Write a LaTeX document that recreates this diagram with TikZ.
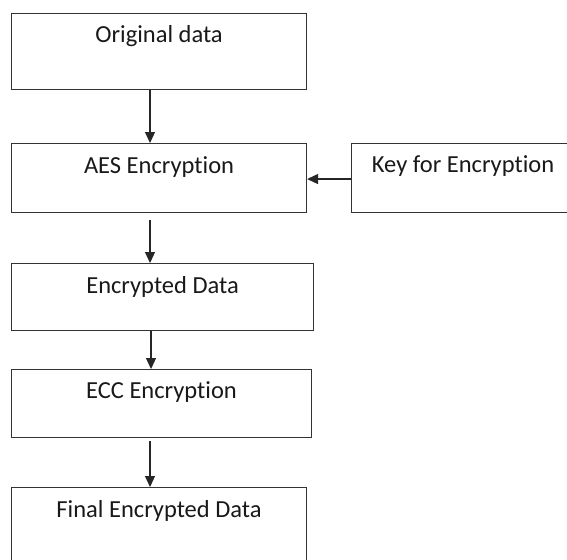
\documentclass[tikz,border=0pt]{standalone}
\usepackage{fontspec}
\setmainfont[Ligatures={NoCommon}]{Carlito}
\usetikzlibrary{arrows.meta,calc}
\begin{document}
\begin{tikzpicture}[x=1pt,y=-1pt,
  box/.style={draw=black!80, line width=1.1pt, anchor=north west, inner sep=0pt, fill=white},
  lbl/.style={anchor=base, inner sep=0pt, font=\fontsize{24.5}{29}\selectfont, text=black!90},
  arr/.style={draw=black!85, line width=1.2pt, -{Triangle[width=10pt,length=11pt]}}]
\useasboundingbox (0,0) rectangle (567,559);
\clip (0,0) rectangle (567,559);
\fill[white] (0,0) rectangle (567,559);
% boxes
\node[box, minimum width=295pt, minimum height=76pt] (orig) at (11,13) {};
\node[box, minimum width=295pt, minimum height=69pt] (aes) at (11,143) {};
\node[box, minimum width=223pt, minimum height=69pt] (key) at (351,143) {};
\node[box, minimum width=302pt, minimum height=67pt] (enc) at (11,263) {};
\node[box, minimum width=300pt, minimum height=68pt] (ecc) at (11,369) {};
\node[box, minimum width=295pt, minimum height=90pt] (fin) at (11,487) {};
% labels
\node[lbl] (torig) at ($(orig.north)+(0,30)$) {Original data};
\node[lbl] (taes) at ($(aes.north)+(0,30)$) {AES Encryption};
\node[lbl] (tkey) at ($(key.north)+(0,29)$) {Key for Encryption};
\node[lbl] (tenc) at ($(enc.north)+(0,30)$) {Encrypted Data};
\node[lbl] (tecc) at ($(ecc.north)+(0,29)$) {ECC Encryption};
\node[lbl] (tfin) at ($(fin.north)+(0,30)$) {Final Encrypted Data};
% connectors
\draw[arr] ($(orig.south west)+(139,0)$) -- ($(aes.north west)+(139,0)$);
\draw[arr] ($(aes.south west)+(139,7)$) -- ($(enc.north west)+(139,0)$);
\draw[arr] ($(enc.south west)+(140,0)$) -- ($(ecc.north west)+(140,0)$);
\draw[arr] ($(ecc.south west)+(139,3)$) -- ($(fin.north west)+(139,0)$);
\draw[arr] ($(key.west)+(0,1)$) -- ($(aes.east)+(0,1)$);
\end{tikzpicture}
\end{document}
